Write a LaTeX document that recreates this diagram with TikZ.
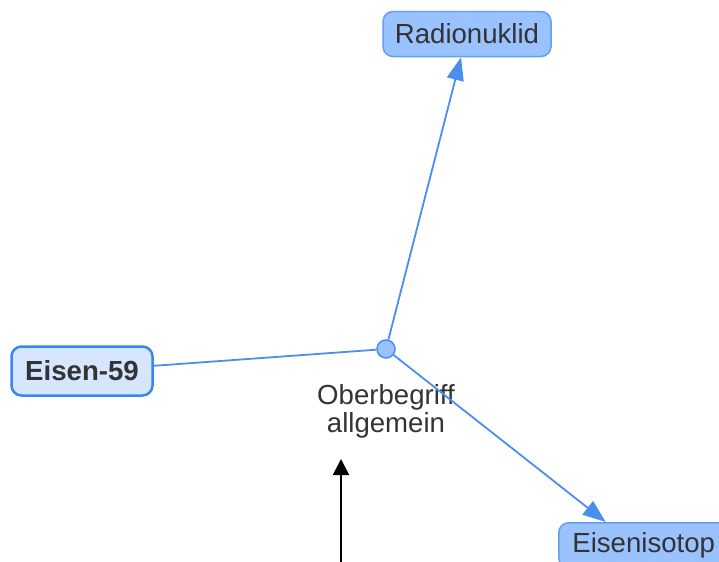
\documentclass[tikz,border=0pt]{standalone}
\usepackage{fontspec}
\setmainfont{Liberation Sans}
\usetikzlibrary{calc,shapes,positioning}
\usetikzlibrary{arrows.meta}
\definecolor{edgeblue}{HTML}{4A8EEE}
\definecolor{nodefill}{HTML}{99C2FF}
\definecolor{nodeline}{HTML}{62A0F2}
\definecolor{focusfill}{HTML}{D6E6FF}
\definecolor{focusline}{HTML}{3A86EC}
\definecolor{textgrey}{HTML}{333333}
\tikzset{>={Triangle[width=8.5pt,length=11.5pt]}}

\begin{document}
\begin{tikzpicture}[x=0.5pt,y=-0.5pt,font=\fontsize{13.8}{14}\selectfont]
      \tikzstyle{cnode} = [draw=nodeline, fill=nodefill, rounded corners=5pt, line width=0.75pt, text=textgrey, minimum height=22.5pt, align=center]
      \tikzstyle{edge} = [draw=edgeblue, line width=0.9pt]
      \useasboundingbox (0,0) rectangle (719,562);

      \node[cnode, minimum width=84pt] (radio) at (467,34) {Radionuklid};
      \node[cnode, fill=focusfill, draw=focusline, line width=1.25pt, minimum width=70.5pt, minimum height=24.5pt, font=\fontsize{13.8}{14}\selectfont\bfseries] (eisen) at (82,371) {Eisen-59};
      \node[cnode, minimum width=85pt, anchor=north west] (iso) at (558,522) {Eisenisotop};
      \node[circle, draw=edgeblue, fill=nodefill, line width=0.75pt, minimum size=9pt, inner sep=0pt] (hub) at (386,349) {};
      \node[text=textgrey, align=center] (lbl) at (386,411) {Oberbegriff\\allgemein};

      \draw[edge] (eisen) -- (hub);
      \draw[edge, ->, edgeblue] (hub) -- (radio);
      \draw[edge, ->, edgeblue] (hub) -- ([xshift=-19pt]iso.north);

      \coordinate (src) at (341,562);
      \coordinate (dst) at (341,459);
      \draw[->, black, line width=1pt, >={Triangle[width=8pt,length=8pt]}] (src) -- (dst);

    \end{tikzpicture}
\end{document}
